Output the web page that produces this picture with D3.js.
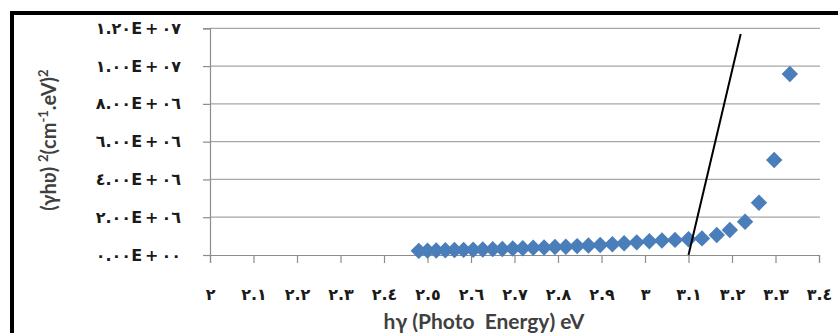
<!DOCTYPE html>
<html>
<head>
<meta charset="utf-8">
<script src="https://cdn.jsdelivr.net/npm/d3@7"></script>
<style>
  html, body { margin: 0; padding: 0; background: #fff; }
  svg { display: block; }
</style>
</head>
<body>
<div id="chart"></div>
<script>
// photon energy (eV) and (alpha h nu)^2 values
const energy = [2.480, 2.500, 2.520, 2.541, 2.562, 2.583, 2.605, 2.627, 2.650, 2.672,
  2.696, 2.719, 2.743, 2.768, 2.793, 2.818, 2.844, 2.870, 2.897, 2.925,
  2.952, 2.981, 3.010, 3.039, 3.069, 3.100, 3.131, 3.165, 3.195, 3.230,
  3.262, 3.297, 3.333];
const tauc = [0.22e6, 0.23e6, 0.24e6, 0.25e6, 0.26e6, 0.27e6, 0.28e6, 0.29e6, 0.31e6, 0.32e6,
  0.34e6, 0.36e6, 0.38e6, 0.40e6, 0.42e6, 0.44e6, 0.47e6, 0.50e6, 0.53e6, 0.57e6,
  0.62e6, 0.67e6, 0.73e6, 0.77e6, 0.80e6, 0.83e6, 0.88e6, 1.06e6, 1.32e6, 1.76e6,
  2.77e6, 5.03e6, 9.58e6];
// hand-drawn extrapolation line
const fitLine = [[3.10, 0], [3.22, 1.17e7]];

const xTicks = [2, 2.1, 2.2, 2.3, 2.4, 2.5, 2.6, 2.7, 2.8, 2.9, 3, 3.1, 3.2, 3.3, 3.4];
const yTicks = [0, 2e6, 4e6, 6e6, 8e6, 1e7, 1.2e7];

const W = 838, H = 333;
const arDigits = '٠١٢٣٤٥٦٧٨٩';
const toAr = s => s.replace(/[0-9]/g, d => arDigits[+d]);

const svg = d3.select('#chart').append('svg')
  .attr('width', W).attr('height', H);

// outer frame
svg.append('rect')
  .attr('x', 12).attr('y', 13).attr('width', W + 20).attr('height', H + 20)
  .attr('fill', 'none').attr('stroke', '#000').attr('stroke-width', 4);

const x = d3.scaleLinear().domain([2, 3.4]).range([210, 819]);
const y = d3.scaleLinear().domain([0, 1.2e7]).range([255, 28.3]);

// gridlines
svg.append('g').selectAll('line').data(yTicks.filter(d => d > 0)).join('line')
  .attr('x1', x(2)).attr('x2', x(3.4) + 1)
  .attr('y1', d => y(d)).attr('y2', d => y(d))
  .attr('stroke', '#a6a6a6').attr('stroke-width', 1.2);

const fmtY = v => {
  const [m, e] = v.toExponential(2).split('e');
  const ee = Math.abs(+e).toString().padStart(2, '0');
  return toAr(m + 'E+' + ee);
};

const yAxis = svg.append('g').attr('transform', `translate(${x(2)},0)`)
  .call(d3.axisLeft(y).tickValues(yTicks).tickSize(7).tickPadding(22).tickFormat(fmtY));
const xAxis = svg.append('g').attr('transform', `translate(0,${y(0)})`)
  .call(d3.axisBottom(x).tickValues(xTicks).tickSize(8).tickPadding(26).tickFormat(d => toAr(String(d))));

[yAxis, xAxis].forEach(a => {
  a.select('.domain').attr('stroke', '#8c8c8c').attr('stroke-width', 1.2);
  a.selectAll('.tick line').attr('stroke', '#8c8c8c').attr('stroke-width', 1.2);
  a.selectAll('.tick text')
    .attr('fill', '#1a1a1a').attr('font-size', '16px').attr('font-weight', 'bold')
    .attr('font-family', '"DejaVu Sans", sans-serif')
    .attr('direction', 'ltr').attr('unicode-bidi', 'bidi-override');
});
yAxis.selectAll('.tick text').attr('letter-spacing', '3px');
xAxis.selectAll('.tick text').attr('letter-spacing', '1px');

// data points (diamonds)
const pts = energy.map((e, i) => ({ e, v: tauc[i] }));
svg.append('g').selectAll('path').data(pts).join('path')
  .attr('d', d3.symbol(d3.symbolSquare, 135))
  .attr('transform', d => `translate(${x(d.e)},${y(d.v)}) rotate(45)`)
  .attr('fill', '#4a7ebb');

// extrapolation line
svg.append('path')
  .attr('d', d3.line().x(d => x(d[0])).y(d => y(d[1]))(fitLine))
  .attr('stroke', '#000').attr('stroke-width', 2).attr('fill', 'none');

// axis titles
const yt = svg.append('text')
  .attr('transform', 'translate(56,140) rotate(-90)')
  .attr('text-anchor', 'middle')
  .attr('fill', '#404040').attr('font-size', '20px').attr('font-weight', 'bold')
  .attr('font-family', 'Lato, "Open Sans", sans-serif');
yt.append('tspan').text('(γhʋ) ');
yt.append('tspan').attr('font-size', '13px').attr('dy', -8).text('2');
yt.append('tspan').attr('dy', 8).text('(cm');
yt.append('tspan').attr('font-size', '13px').attr('dy', -8).text('-1');
yt.append('tspan').attr('dy', 8).text('.eV)');
yt.append('tspan').attr('font-size', '13px').attr('dy', -8).text('2');

svg.append('text')
  .attr('x', 484).attr('y', 329)
  .attr('text-anchor', 'middle')
  .attr('fill', '#404040').attr('font-size', '21px').attr('font-weight', 'bold')
  .attr('font-family', 'Lato, "Open Sans", sans-serif')
  .attr('xml:space', 'preserve')
  .text('hγ (Photo  Energy) eV');
</script>
</body>
</html>
